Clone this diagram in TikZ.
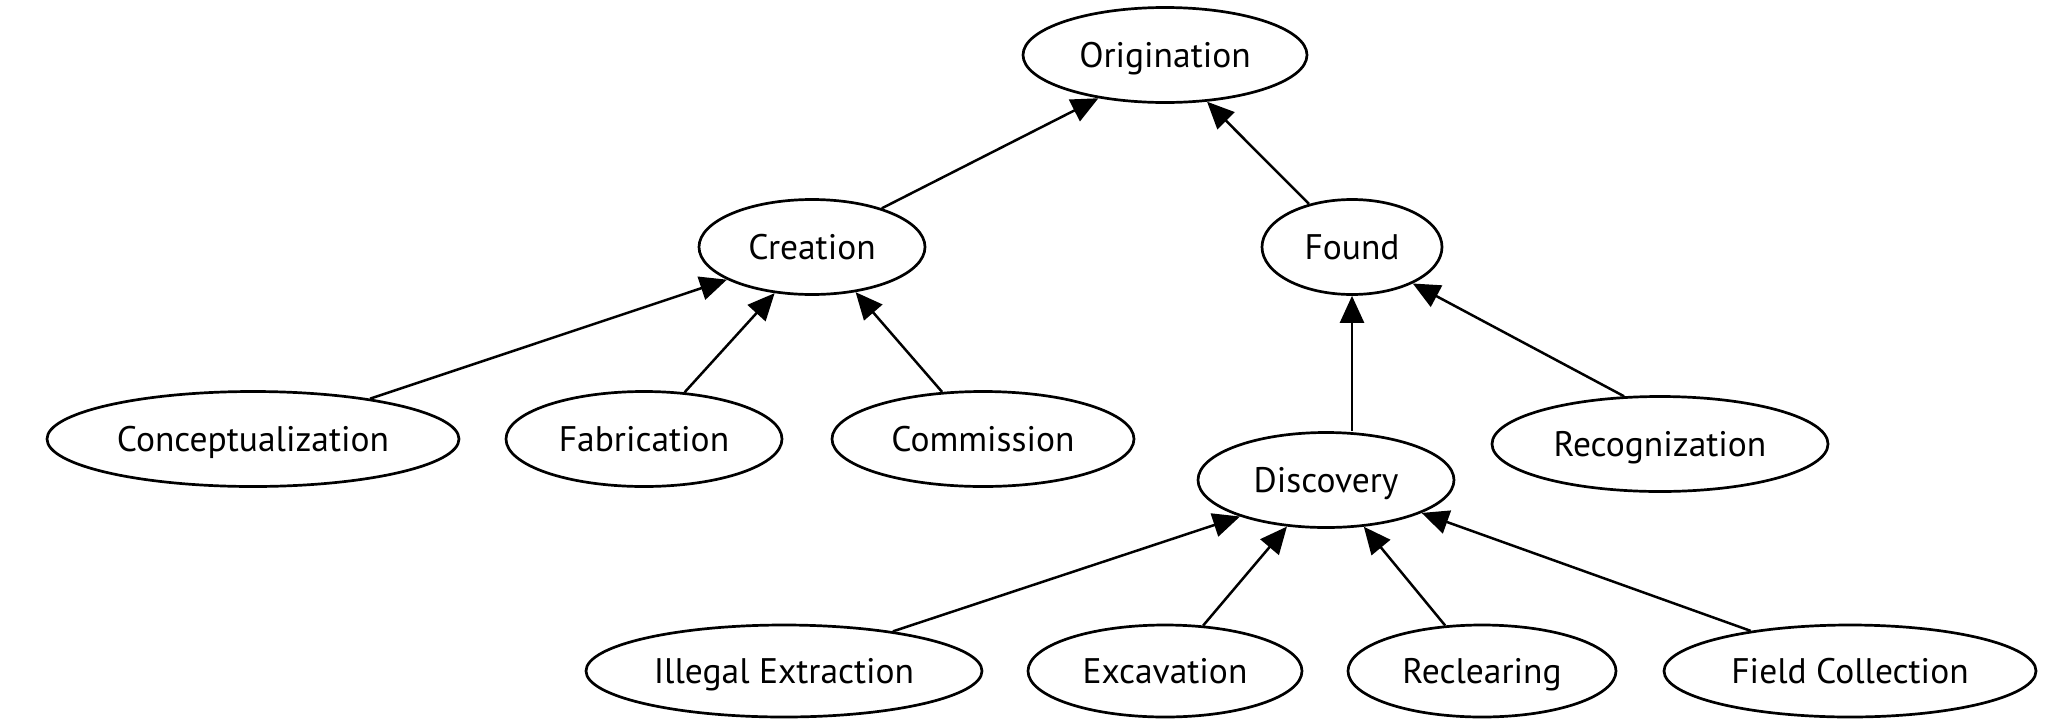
\documentclass[tikz,border=0pt]{standalone}
\usepackage{fontspec}
\setmainfont{PT Sans}
\usetikzlibrary{shapes.geometric,arrows.meta}
\begin{document}
\begin{tikzpicture}[x=1pt,y=-1pt,
  ov/.style={ellipse,draw,line width=2.7pt,inner sep=0pt,minimum height=95pt,text height=33pt,text depth=8.5pt,font=\fontsize{35.5}{40}\selectfont},
  ed/.style={line width=2.5pt,-{Triangle[length=27pt,width=24pt]}}]
\useasboundingbox (0,0) rectangle (2058,718);
\node[ov,minimum width=284pt] (orig) at (1165,55) {Origination};
\node[ov,minimum width=226pt] (crea) at (812,247) {Creation};
\node[ov,minimum width=180pt] (found) at (1352,247) {Found};
\node[ov,minimum width=412pt] (conc) at (253,439) {Conceptualization};
\node[ov,minimum width=276pt] (fabr) at (644,439) {Fabrication};
\node[ov,minimum width=302pt] (comm) at (983,439) {Commission};
\node[ov,minimum width=256pt] (disc) at (1326,480) {Discovery};
\node[ov,minimum width=336pt] (reco) at (1660,444) {Recognization};
\node[ov,minimum width=396pt,minimum height=92pt] (ille) at (784,671) {Illegal Extraction};
\node[ov,minimum width=274pt,minimum height=92pt] (exca) at (1165,671) {Excavation};
\node[ov,minimum width=268pt,minimum height=92pt] (recl) at (1482,671) {Reclearing};
\node[ov,minimum width=372pt,minimum height=92pt] (fiel) at (1850,671) {Field Collection};
\draw[ed] (crea.29.7) -- (orig.-147.9);
\draw[ed] (found.135) -- (orig.-48);
\draw[ed] (conc.19.2) -- (crea.-159);
\draw[ed] (fabr.49) -- (crea.-129.3);
\draw[ed] (comm.131.7) -- (crea.-46.3);
\draw[ed] (found.south |- disc.north) -- (found.south);
\draw[ed] (reco.127.3) -- (found.-31.1);
\draw[ed] (ille.20.3) -- (disc.-157.3);
\draw[ed] (exca.50.6) -- (disc.-130.8);
\draw[ed] (recl.129.4) -- (disc.-51.5);
\draw[ed] (fiel.158.8) -- (disc.-19.6);
\end{tikzpicture}
\end{document}
